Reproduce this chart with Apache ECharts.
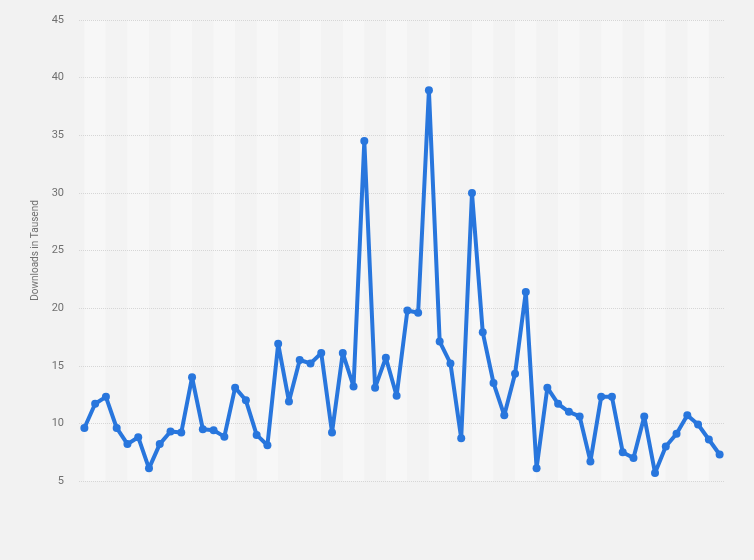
<!DOCTYPE html>
<html>
<head>
<meta charset="utf-8">
<script src="https://cdn.jsdelivr.net/npm/echarts@6/dist/echarts.min.js"></script>
<style>
    html, body { margin: 0; padding: 0; background: #f2f2f2; }
    #chart { width: 754px; height: 560px; }
</style>
</head>
<body>
<div id="chart"></div>
<script>
var downloads = [
    9.6, 11.7, 12.3, 9.6, 8.2, 8.8, 6.1, 8.2, 9.3, 9.2,
    14.0, 9.5, 9.4, 8.85, 13.1, 12.0, 9.0, 8.1, 16.9, 11.9,
    15.5, 15.2, 16.1, 9.2, 16.1, 13.2, 34.5, 13.1, 15.7, 12.4,
    19.8, 19.6, 38.9, 17.1, 15.2, 8.7, 30.0, 17.9, 13.5, 10.7,
    14.3, 21.4, 6.1, 13.1, 11.7, 11.0, 10.6, 6.7, 12.3, 12.3,
    7.5, 7.0, 10.6, 5.7, 8.0, 9.1, 10.7, 9.9, 8.6, 7.3
];
var categories = downloads.map(function (v, i) { return String(i + 1); });
var yTicks = [5, 10, 15, 20, 25, 30, 35, 40, 45];

var myChart = echarts.init(document.getElementById('chart'));
var option = {
    backgroundColor: '#f2f2f2',
    animation: false,
    grid: {
        left: 79,
        right: 29,
        top: 20,
        bottom: 79
    },
    xAxis: {
        type: 'category',
        data: categories,
        boundaryGap: true,
        z: 0,
        axisLine: { show: false },
        axisTick: { show: false },
        axisLabel: { show: false },
        splitArea: {
            show: true,
            interval: 1,
            alignWithLabel: true,
            areaStyle: {
                color: ['#f7f7f7', '#f3f3f3']
            }
        }
    },
    yAxis: {
        type: 'value',
        min: yTicks[0],
        max: yTicks[yTicks.length - 1],
        interval: 5,
        z: 1,
        name: 'Downloads in Tausend',
        nameLocation: 'middle',
        nameGap: 39,
        nameTextStyle: {
            color: '#707070',
            fontSize: 10,
            fontFamily: 'Roboto'
        },
        axisLine: { show: false },
        axisTick: { show: false },
        axisLabel: {
            color: '#707070',
            fontSize: 11,
            fontFamily: 'Roboto',
            margin: 15
        },
        splitLine: {
            show: true,
            lineStyle: {
                color: '#d6d6d6',
                width: 1,
                type: 'dotted'
            }
        }
    },
    series: [{
        name: 'Downloads',
        type: 'line',
        data: downloads,
        symbol: 'circle',
        symbolSize: 8,
        showSymbol: true,
        showAllSymbol: true,
        z: 3,
        lineStyle: {
            color: '#2876dd',
            width: 4
        },
        itemStyle: {
            color: '#2876dd'
        }
    }]
};
myChart.setOption(option);
</script>
</body>
</html>
